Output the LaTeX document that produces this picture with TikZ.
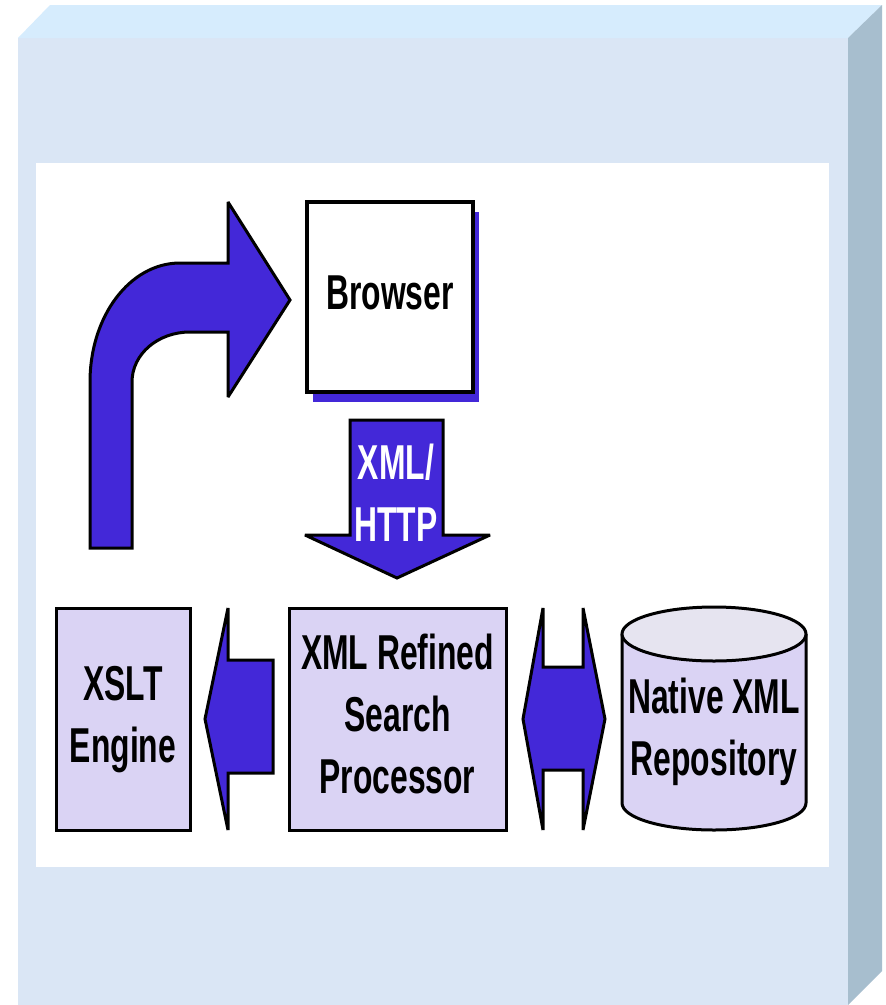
\documentclass[tikz,border=0pt]{standalone}
\usepackage{fontspec}
\setmainfont{Liberation Sans}
\usetikzlibrary{shadows}

\definecolor{faceblue}{HTML}{DAE6F5}
\definecolor{topblue}{HTML}{D6ECFD}
\definecolor{sideblue}{HTML}{A7BECE}
\definecolor{arrowblue}{HTML}{4328D8}
\definecolor{lavender}{HTML}{DAD3F4}
\definecolor{lidgrey}{HTML}{E6E4F0}

% narrow bold label, several lines
\newcommand{\squeeze}[1]{\scalebox{0.65}[1]{\begin{tabular}{@{}c@{}}#1\end{tabular}}}

\begin{document}
\begin{tikzpicture}[x=1pt, y=-1pt, line join=miter, miter limit=3,
    font=\bfseries\fontsize{49}{62}\selectfont,
    box/.style={draw=black, line width=3pt, fill=lavender, inner sep=0pt},
    blockarrow/.style={draw=black, line width=3pt, fill=arrowblue}]
    % --- FRAME ---
    % page is 886 x 1005, one unit is one pixel, y runs downwards
    \useasboundingbox[fill=white] (0,0) rectangle (886,1005);

    % Raised panel: front, top and right faces
    \fill[faceblue] (18,38) rectangle (848,1005);
    \fill[topblue] (18,38) -- (50,5) -- (882,5) -- (848,38) -- cycle;
    \fill[sideblue] (848,38) -- (882,5) -- (882,971) -- (848,1005) -- cycle;

    % White sheet on the panel
    \fill[white] (36,163) rectangle (829,867);

    % --- BOXES ---
    \node[draw=black, line width=4pt, fill=white, minimum width=166pt, minimum height=190pt,
          drop shadow={shadow xshift=6pt, shadow yshift=-10pt, fill=arrowblue, opacity=1}]
          (browser) at (390,297) {\squeeze{Browser}};

    \node[box, minimum width=134pt, minimum height=222pt] (xslt) at (123,719)
          {\squeeze{XSLT\\Engine}};
    \node[box, minimum width=217pt, minimum height=222pt] (refined) at (397.5,719)
          {\squeeze{XML Refined\\Search\\Processor}};

    % Cylinder for the repository
    \draw[box] (622,634) -- (622,803)
        .. controls (622,818) and (663,830) .. (714,830)
        .. controls (765,830) and (806,818) .. (806,803) -- (806,634);
    \draw[box, fill=lidgrey] (714,634) ellipse [x radius=92pt, y radius=27pt];
    \node (repo) at (714,732) {\squeeze{Native XML\\Repository}};

    % --- ARROWS ---
    % Curved arrow rising up and turning towards the browser
    \draw[blockarrow] (90,548) -- (90,382)
        .. controls (90,316) and (130,263) .. (180,263)
        -- (228,263) -- (228,202) -- (290,300) -- (228,397) -- (228,332) -- (190,332)
        .. controls (158,332) and (132,354) .. (132,382)
        -- (132,548) -- cycle;

    % Down arrow from the browser
    \draw[blockarrow] (350,420) -- (443,420) -- (443,535) -- (490,535)
        -- (397,578) -- (305,535) -- (350,535) -- cycle;
    \node[text=white] (xmlhttp) at (396,498) {\squeeze{XML/\\HTTP}};

    % Left arrow towards the XSLT engine
    \draw[blockarrow] (273,660) -- (228,660) -- (228,608) -- (205,719)
        -- (228,830) -- (228,773) -- (273,773) -- cycle;

    % Double arrow between processor and repository
    \draw[blockarrow] (543,667) -- (543,608) -- (523,719) -- (543,830) -- (543,770)
        -- (583,770) -- (583,830) -- (605,719) -- (583,608) -- (583,667) -- cycle;

\end{tikzpicture}
\end{document}
